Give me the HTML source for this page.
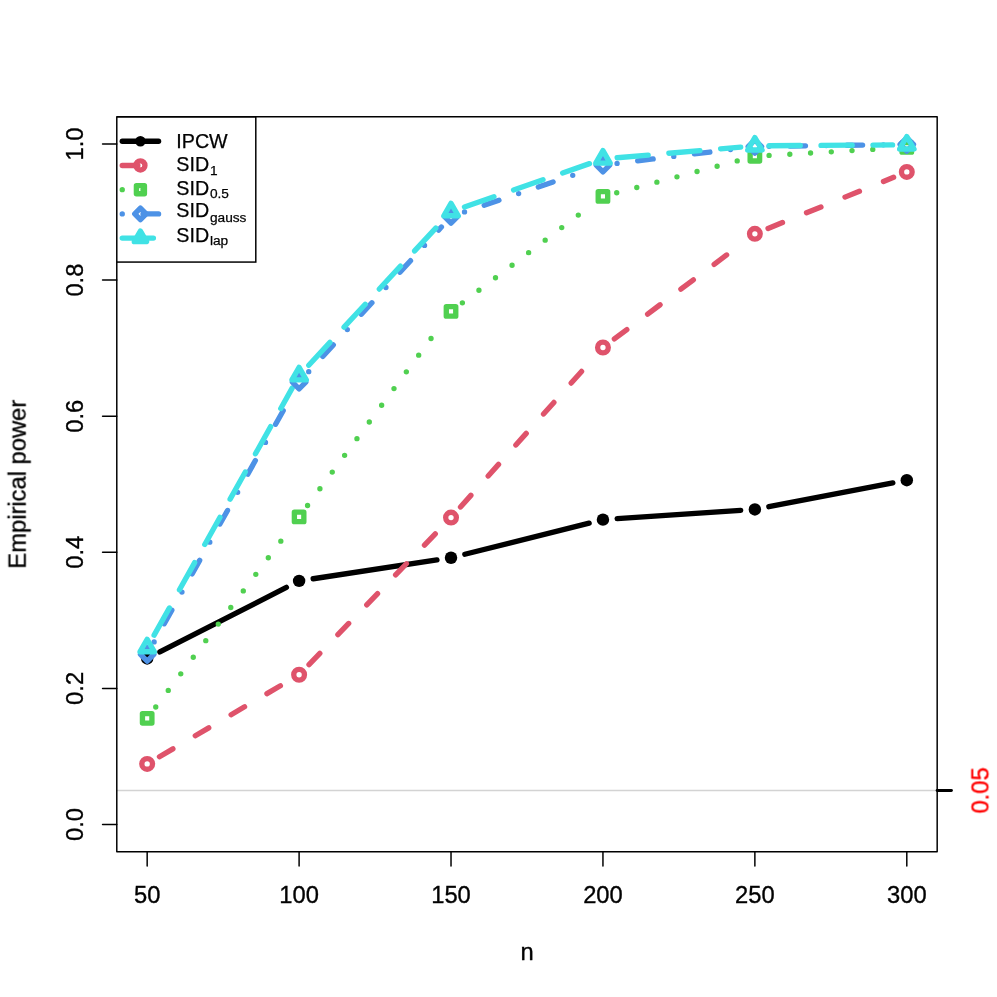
<!DOCTYPE html>
<html><head><meta charset="utf-8"><title>Empirical power</title>
<style>html,body{margin:0;padding:0;background:#fff}body{width:997px;height:997px;overflow:hidden}svg{display:block}</style>
</head><body>
<svg width="997" height="997" viewBox="0 0 997 997">
<rect width="997" height="997" fill="#fff"/>
<defs><clipPath id="pc"><rect x="116.79" y="116.79" width="820.39" height="734.93"/></clipPath></defs>
<g clip-path="url(#pc)">
<line x1="159.86" y1="651.98" x2="286.41" y2="587.36" stroke="#000000" stroke-width="5.35" stroke-linecap="round"/>
<line x1="313.18" y1="578.74" x2="436.94" y2="559.89" stroke="#000000" stroke-width="5.35" stroke-linecap="round"/>
<line x1="464.84" y1="554.28" x2="589.13" y2="523.11" stroke="#000000" stroke-width="5.35" stroke-linecap="round"/>
<line x1="617.16" y1="518.69" x2="740.66" y2="510.39" stroke="#000000" stroke-width="5.35" stroke-linecap="round"/>
<line x1="768.86" y1="506.74" x2="892.81" y2="482.87" stroke="#000000" stroke-width="5.35" stroke-linecap="round"/>
<line x1="159.46" y1="756.73" x2="286.81" y2="682.00" stroke="#DF536B" stroke-width="5.35" stroke-linecap="round" stroke-dasharray="15.58 25.96"/>
<line x1="309.00" y1="664.55" x2="441.12" y2="527.84" stroke="#DF536B" stroke-width="5.35" stroke-linecap="round" stroke-dasharray="15.58 25.96"/>
<line x1="460.51" y1="506.98" x2="593.46" y2="358.10" stroke="#DF536B" stroke-width="5.35" stroke-linecap="round" stroke-dasharray="15.58 25.96"/>
<line x1="614.35" y1="338.95" x2="743.47" y2="242.37" stroke="#DF536B" stroke-width="5.35" stroke-linecap="round" stroke-dasharray="15.58 25.96"/>
<line x1="768.06" y1="228.46" x2="893.61" y2="177.29" stroke="#DF536B" stroke-width="5.35" stroke-linecap="round" stroke-dasharray="15.58 25.96"/>
<line x1="155.75" y1="706.97" x2="290.52" y2="528.29" stroke="#50D050" stroke-width="5.35" stroke-linecap="round" stroke-dasharray="0.00 20.77"/>
<line x1="307.57" y1="505.47" x2="442.56" y2="322.86" stroke="#50D050" stroke-width="5.35" stroke-linecap="round" stroke-dasharray="0.00 20.77"/>
<line x1="462.38" y1="302.81" x2="591.59" y2="205.00" stroke="#50D050" stroke-width="5.35" stroke-linecap="round" stroke-dasharray="0.00 20.77"/>
<line x1="616.72" y1="192.77" x2="741.10" y2="159.90" stroke="#50D050" stroke-width="5.35" stroke-linecap="round" stroke-dasharray="0.00 20.77"/>
<line x1="769.09" y1="155.43" x2="892.58" y2="148.24" stroke="#50D050" stroke-width="5.35" stroke-linecap="round" stroke-dasharray="0.00 20.77"/>
<line x1="154.12" y1="641.94" x2="292.16" y2="394.62" stroke="#4D92E6" stroke-width="5.35" stroke-linecap="round" stroke-dasharray="0.00 20.77 15.58 20.77"/>
<line x1="308.72" y1="371.68" x2="441.40" y2="226.98" stroke="#4D92E6" stroke-width="5.35" stroke-linecap="round" stroke-dasharray="0.00 20.77 15.58 20.77"/>
<line x1="464.52" y1="211.92" x2="589.45" y2="169.67" stroke="#4D92E6" stroke-width="5.35" stroke-linecap="round" stroke-dasharray="0.00 20.77 15.58 20.77"/>
<line x1="617.08" y1="163.38" x2="740.73" y2="148.26" stroke="#4D92E6" stroke-width="5.35" stroke-linecap="round" stroke-dasharray="0.00 20.77 15.58 20.77"/>
<line x1="769.11" y1="146.34" x2="892.55" y2="144.68" stroke="#4D92E6" stroke-width="5.35" stroke-linecap="round" stroke-dasharray="0.00 20.77 15.58 20.77"/>
<line x1="154.12" y1="635.14" x2="292.15" y2="388.15" stroke="#40E2E5" stroke-width="5.35" stroke-linecap="round" stroke-dasharray="31.16 20.77"/>
<line x1="308.77" y1="365.26" x2="441.35" y2="222.03" stroke="#40E2E5" stroke-width="5.35" stroke-linecap="round" stroke-dasharray="31.16 20.77"/>
<line x1="464.48" y1="206.92" x2="589.49" y2="163.64" stroke="#40E2E5" stroke-width="5.35" stroke-linecap="round" stroke-dasharray="31.16 20.77"/>
<line x1="617.14" y1="157.75" x2="740.68" y2="147.07" stroke="#40E2E5" stroke-width="5.35" stroke-linecap="round" stroke-dasharray="31.16 20.77"/>
<line x1="769.11" y1="145.75" x2="892.55" y2="144.92" stroke="#40E2E5" stroke-width="5.35" stroke-linecap="round" stroke-dasharray="31.16 20.77"/>
<circle cx="147.17" cy="658.46" r="6.23" fill="#000000"/>
<circle cx="299.10" cy="580.88" r="6.23" fill="#000000"/>
<circle cx="451.02" cy="557.75" r="6.23" fill="#000000"/>
<circle cx="602.95" cy="519.64" r="6.23" fill="#000000"/>
<circle cx="754.87" cy="509.43" r="6.23" fill="#000000"/>
<circle cx="906.80" cy="480.17" r="6.23" fill="#000000"/>
<circle cx="147.17" cy="763.94" r="5.34" fill="none" stroke="#DF536B" stroke-width="5.35"/>
<circle cx="299.10" cy="674.79" r="5.34" fill="none" stroke="#DF536B" stroke-width="5.35"/>
<circle cx="451.02" cy="517.60" r="5.34" fill="none" stroke="#DF536B" stroke-width="5.35"/>
<circle cx="602.95" cy="347.48" r="5.34" fill="none" stroke="#DF536B" stroke-width="5.35"/>
<circle cx="754.87" cy="233.83" r="5.34" fill="none" stroke="#DF536B" stroke-width="5.35"/>
<circle cx="906.80" cy="171.91" r="5.34" fill="none" stroke="#DF536B" stroke-width="5.35"/>
<rect x="142.44" y="713.61" width="9.47" height="9.47" fill="none" stroke="#50D050" stroke-width="5.35" stroke-linejoin="round"/>
<rect x="294.37" y="512.19" width="9.47" height="9.47" fill="none" stroke="#50D050" stroke-width="5.35" stroke-linejoin="round"/>
<rect x="446.29" y="306.68" width="9.47" height="9.47" fill="none" stroke="#50D050" stroke-width="5.35" stroke-linejoin="round"/>
<rect x="598.21" y="191.67" width="9.47" height="9.47" fill="none" stroke="#50D050" stroke-width="5.35" stroke-linejoin="round"/>
<rect x="750.14" y="151.53" width="9.47" height="9.47" fill="none" stroke="#50D050" stroke-width="5.35" stroke-linejoin="round"/>
<rect x="902.06" y="142.68" width="9.47" height="9.47" fill="none" stroke="#50D050" stroke-width="5.35" stroke-linejoin="round"/>
<path d="M140.48 654.38L147.17 647.68L153.87 654.38L147.17 661.07Z" fill="none" stroke="#4D92E6" stroke-width="5.35" stroke-linejoin="round"/>
<path d="M292.40 382.18L299.10 375.49L305.79 382.18L299.10 388.88Z" fill="none" stroke="#4D92E6" stroke-width="5.35" stroke-linejoin="round"/>
<path d="M444.33 216.48L451.02 209.79L457.72 216.48L451.02 223.18Z" fill="none" stroke="#4D92E6" stroke-width="5.35" stroke-linejoin="round"/>
<path d="M596.25 165.10L602.95 158.41L609.64 165.10L602.95 171.80Z" fill="none" stroke="#4D92E6" stroke-width="5.35" stroke-linejoin="round"/>
<path d="M748.18 146.53L754.87 139.83L761.57 146.53L754.87 153.22Z" fill="none" stroke="#4D92E6" stroke-width="5.35" stroke-linejoin="round"/>
<path d="M900.10 144.49L906.80 137.79L913.49 144.49L906.80 151.18Z" fill="none" stroke="#4D92E6" stroke-width="5.35" stroke-linejoin="round"/>
<path d="M147.17 639.27L154.37 651.73L139.98 651.73Z" fill="none" stroke="#40E2E5" stroke-width="5.35" stroke-linejoin="round"/>
<path d="M299.10 367.41L306.29 379.87L291.91 379.87Z" fill="none" stroke="#40E2E5" stroke-width="5.35" stroke-linejoin="round"/>
<path d="M451.02 203.28L458.22 215.74L443.83 215.74Z" fill="none" stroke="#40E2E5" stroke-width="5.35" stroke-linejoin="round"/>
<path d="M602.95 150.67L610.14 163.13L595.75 163.13Z" fill="none" stroke="#40E2E5" stroke-width="5.35" stroke-linejoin="round"/>
<path d="M754.87 137.54L762.06 150.00L747.68 150.00Z" fill="none" stroke="#40E2E5" stroke-width="5.35" stroke-linejoin="round"/>
<path d="M906.80 136.52L913.99 148.98L899.60 148.98Z" fill="none" stroke="#40E2E5" stroke-width="5.35" stroke-linejoin="round"/>
<line x1="116.79" y1="790.48" x2="937.18" y2="790.48" stroke="#D3D3D3" stroke-width="1.48"/>
</g>
<g clip-path="url(#pc)">
<rect x="103.70" y="116.79" width="152.10" height="145.28" fill="#fff" stroke="#000" stroke-width="1.48"/>
<line x1="122.25" y1="141.25" x2="158.57" y2="141.25" stroke="#000000" stroke-width="5.35" stroke-linecap="round"/>
<line x1="122.25" y1="165.47" x2="158.57" y2="165.47" stroke="#DF536B" stroke-width="5.35" stroke-linecap="round" stroke-dasharray="15.58 25.96"/>
<line x1="122.25" y1="189.68" x2="158.57" y2="189.68" stroke="#50D050" stroke-width="5.35" stroke-linecap="round" stroke-dasharray="0.00 20.77"/>
<line x1="122.25" y1="213.89" x2="158.57" y2="213.89" stroke="#4D92E6" stroke-width="5.35" stroke-linecap="round" stroke-dasharray="0.00 20.77 15.58 20.77"/>
<line x1="122.25" y1="238.10" x2="158.57" y2="238.10" stroke="#40E2E5" stroke-width="5.35" stroke-linecap="round" stroke-dasharray="31.16 20.77"/>
<circle cx="140.41" cy="141.25" r="5.30" fill="#000000"/>
<circle cx="140.41" cy="165.47" r="4.54" fill="none" stroke="#DF536B" stroke-width="5.35"/>
<rect x="136.39" y="185.66" width="8.05" height="8.05" fill="none" stroke="#50D050" stroke-width="5.35" stroke-linejoin="round"/>
<path d="M134.72 213.89L140.41 208.20L146.10 213.89L140.41 219.58Z" fill="none" stroke="#4D92E6" stroke-width="5.35" stroke-linejoin="round"/>
<path d="M140.41 231.04L146.52 241.63L134.30 241.63Z" fill="none" stroke="#40E2E5" stroke-width="5.35" stroke-linejoin="round"/>
</g>
<g fill="none" stroke="#000" stroke-width="1.48" stroke-linecap="round" stroke-linejoin="round">
<rect x="116.79" y="116.79" width="820.39" height="734.93"/>
<line x1="147.17" y1="851.72" x2="147.17" y2="865.96"/>
<line x1="299.10" y1="851.72" x2="299.10" y2="865.96"/>
<line x1="451.02" y1="851.72" x2="451.02" y2="865.96"/>
<line x1="602.95" y1="851.72" x2="602.95" y2="865.96"/>
<line x1="754.87" y1="851.72" x2="754.87" y2="865.96"/>
<line x1="906.80" y1="851.72" x2="906.80" y2="865.96"/>
<line x1="116.79" y1="824.50" x2="102.55" y2="824.50"/>
<line x1="116.79" y1="688.40" x2="102.55" y2="688.40"/>
<line x1="116.79" y1="552.30" x2="102.55" y2="552.30"/>
<line x1="116.79" y1="416.21" x2="102.55" y2="416.21"/>
<line x1="116.79" y1="280.11" x2="102.55" y2="280.11"/>
<line x1="116.79" y1="144.01" x2="102.55" y2="144.01"/>
</g>
<line x1="937.18" y1="790.48" x2="951.42" y2="790.48" stroke="#000" stroke-width="2.97" stroke-linecap="round"/>
<g font-family="Liberation Sans, sans-serif" font-size="23.74" fill="#000" stroke="#000" stroke-width="0.35" opacity="0.999">
<text x="147.17" y="902.99" text-anchor="middle">50</text>
<text x="299.10" y="902.99" text-anchor="middle">100</text>
<text x="451.02" y="902.99" text-anchor="middle">150</text>
<text x="602.95" y="902.99" text-anchor="middle">200</text>
<text x="754.87" y="902.99" text-anchor="middle">250</text>
<text x="906.80" y="902.99" text-anchor="middle">300</text>
<text x="526.99" y="959.97" text-anchor="middle">n</text>
<text transform="translate(82.61 824.50) rotate(-90)" text-anchor="middle">0.0</text>
<text transform="translate(82.61 688.40) rotate(-90)" text-anchor="middle">0.2</text>
<text transform="translate(82.61 552.30) rotate(-90)" text-anchor="middle">0.4</text>
<text transform="translate(82.61 416.21) rotate(-90)" text-anchor="middle">0.6</text>
<text transform="translate(82.61 280.11) rotate(-90)" text-anchor="middle">0.8</text>
<text transform="translate(82.61 144.01) rotate(-90)" text-anchor="middle">1.0</text>
<text transform="translate(25.64 484.25) rotate(-90)" text-anchor="middle">Empirical power</text>
<text transform="translate(988.45 790.48) rotate(-90)" text-anchor="middle" fill="#FF0000" stroke="#FF0000">0.05</text>
<g font-size="19.70" stroke-width="0.25">
<text x="176.30" y="147.7">IPCW</text>
<text x="176.30" y="170.90">SID</text>
<text x="209.94" y="174.50" font-size="13.70">1</text>
<text x="176.30" y="194.80">SID</text>
<text x="209.94" y="198.30" font-size="13.70">0.5</text>
<text x="176.30" y="217.10">SID</text>
<text x="209.94" y="221.60" font-size="13.70">gauss</text>
<text x="176.30" y="241.90">SID</text>
<text x="209.94" y="245.10" font-size="13.70">lap</text>
</g>
</g>
</svg>
</body></html>
